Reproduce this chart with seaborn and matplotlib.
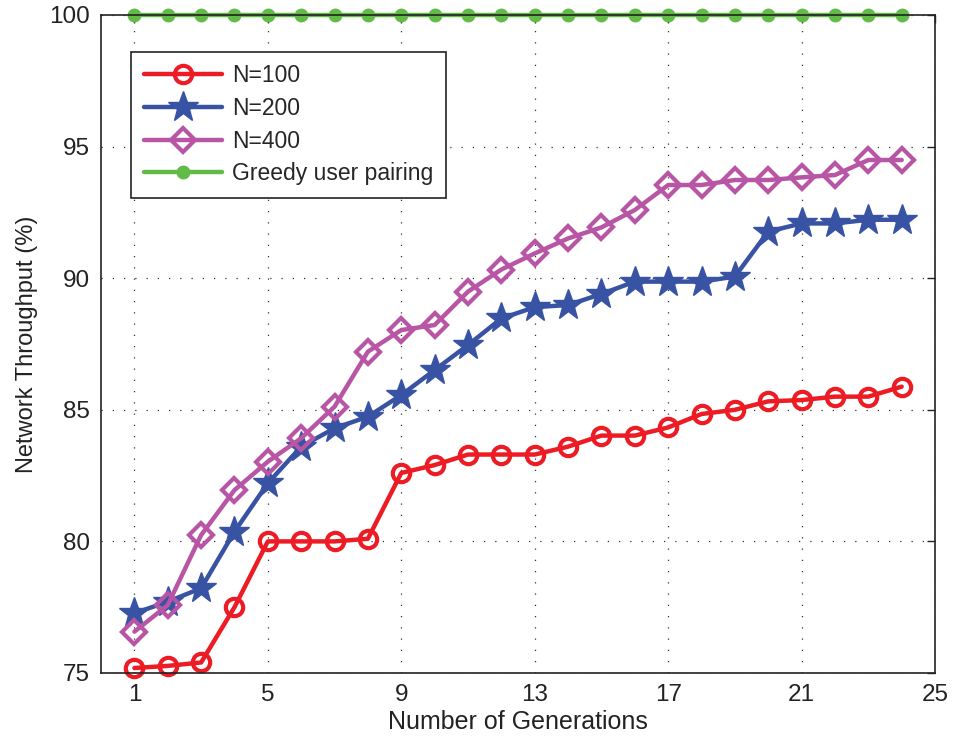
import matplotlib
matplotlib.use("Agg")
import matplotlib.pyplot as plt
import seaborn as sns
import pandas as pd

generations = list(range(1, 25))
n100 = [75.19, 75.27, 75.4, 77.5, 80.0, 80.0, 80.0, 80.1, 82.6, 82.9, 83.3, 83.3,
        83.3, 83.6, 84.02, 84.02, 84.33, 84.84, 85.0, 85.32, 85.37, 85.5, 85.5, 85.88]
n200 = [77.27, 77.71, 78.22, 80.37, 82.21, 83.6, 84.3, 84.74, 85.56, 86.51, 87.46, 88.47,
        88.9, 88.98, 89.4, 89.87, 89.87, 89.87, 90.06, 91.77, 92.08, 92.08, 92.22, 92.22]
n400 = [76.57, 77.58, 80.24, 81.95, 83.03, 83.92, 85.12, 87.21, 88.03, 88.22, 89.49, 90.33,
        90.94, 91.51, 91.93, 92.59, 93.54, 93.54, 93.73, 93.73, 93.83, 93.92, 94.49, 94.49]
greedy = [100.0] * 24

series_names = ["N=100", "N=200", "N=400", "Greedy user pairing"]
x_ticks = [1, 5, 9, 13, 17, 21, 25]
y_ticks = [75, 80, 85, 90, 95, 100]

sns.set_theme(style="white")
plt.rcParams["font.family"] = ["Liberation Sans", "DejaVu Sans"]

fig = plt.figure(figsize=(9.55, 7.42), dpi=100)
ax = fig.add_axes([0.1058, 0.093, 0.8733, 0.8868])

styles = [
    dict(color="#ED1C24", marker="o", markersize=12.5, markeredgewidth=3.0,
         markerfacecolor="none"),
    dict(color="#3853A4", marker="*", markersize=23, markeredgewidth=1.0),
    dict(color="#B855A4", marker="D", markersize=12, markeredgewidth=3.0,
         markerfacecolor="none"),
    dict(color="#62BB47", marker="o", markersize=9, markeredgewidth=1.0),
]

for name, values, st in zip(series_names, [n100, n200, n400, greedy], styles):
    df = pd.DataFrame({"Generation": generations, "Throughput": values})
    sns.lineplot(data=df, x="Generation", y="Throughput", ax=ax, label=name,
                 linewidth=3.2, markeredgecolor=st["color"], clip_on=False, **st)

ax.set_xlim(0, 25)
ax.set_ylim(75, 100)
ax.set_xticks(x_ticks)
ax.set_yticks(y_ticks)
ax.tick_params(axis="both", direction="in", length=6, width=1.0, labelsize=17.5,
               top=True, right=True, colors="#222222", labelcolor="#222222", pad=8)
ax.grid(True, linestyle=(0, (1, 8)), color="#333333", linewidth=0.9)
for sp in ax.spines.values():
    sp.set_color("#222222")
    sp.set_linewidth(1.2)

ax.set_xlabel("Number of Generations", fontsize=18, color="#222222", labelpad=3)
ax.set_ylabel("Network Throughput (%)", fontsize=17, color="#222222", labelpad=8)

leg = ax.legend(loc="upper left", bbox_to_anchor=(0.036, 0.944), fontsize=16.5,
                frameon=True, fancybox=False, framealpha=1, edgecolor="#222222",
                handlelength=3.4, borderpad=0.55, labelspacing=0.42, handletextpad=0.45,
                borderaxespad=0)
leg.get_frame().set_linewidth(1.2)

fig.savefig("out.png", dpi=100)
